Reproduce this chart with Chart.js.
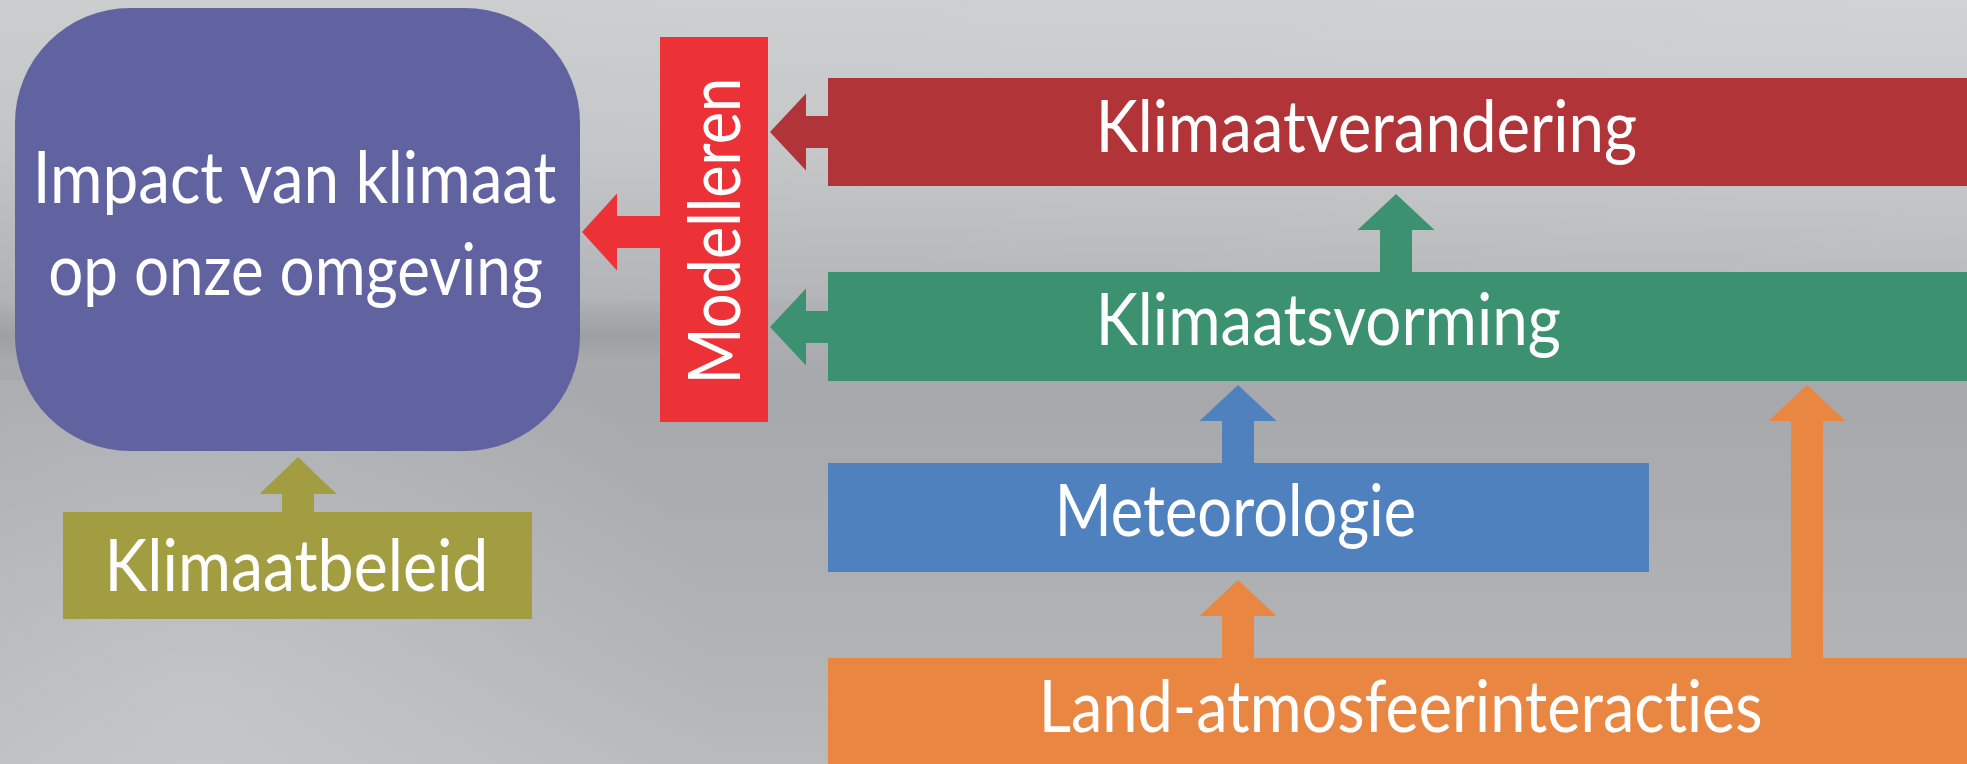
<!DOCTYPE html>
<html>
<head>
<meta charset="utf-8">
<script src="https://cdn.jsdelivr.net/npm/chart.js@4"></script>
<style>
html,body{margin:0;padding:0;background:#b4b6b8;overflow:hidden;}
#wrap{width:1967px;height:764px;position:relative;}
</style>
</head>
<body>
<div id="wrap"><canvas id="c" width="1967" height="764"></canvas></div>
<script>
// ---------- DATA ----------
const nodes = [
  'Impact van klimaat\nop onze omgeving',
  'Modelleren',
  'Klimaatverandering',
  'Klimaatsvorming',
  'Meteorologie',
  'Land-atmosfeerinteracties',
  'Klimaatbeleid'
];
// links: [from, to]  (index into nodes)
const linkFrom = [1, 2, 3, 3, 4, 5, 5, 6];
const linkTo   = [0, 1, 1, 2, 3, 4, 3, 0];

// ---------- LAYOUT (data units of the 0..W / 0..H scales) ----------
const W = 1967, H = 764;
const boxLayout = [
  {x0:15,  x1:580,  y0:8,   y1:451, r:115},
  {x0:660, x1:768,  y0:37,  y1:422, r:0, vertical:true},
  {x0:828, x1:1967, y0:78,  y1:186, r:0},
  {x0:828, x1:1967, y0:272, y1:381, r:0},
  {x0:828, x1:1649, y0:463, y1:572, r:0},
  {x0:828, x1:1967, y0:658, y1:764, r:0},
  {x0:63,  x1:532,  y0:512, y1:619, r:0}
];
// text: left ink edge, ink width, baselines (one per line)
const textLayout = [
  {x:38,   w:518, base:[203, 295], lineW:[518, 492], lineX:[38, 50]},
  {x:740,  w:298, base:[379]},          // vertical: baseline x = 740, starts at y=379
  {x:1101, w:535, base:[152]},
  {x:1101, w:459, base:[345]},
  {x:1060, w:354, base:[536]},
  {x:1044, w:717, base:[732]},
  {x:110,  w:374, base:[591]}
];
const capHeight = 52;
// arrows: tip point, direction, head length, shaft end
const arrowLayout = [
  {tx:582,  ty:232, dir:'left', head:35, end:660},
  {tx:770,  ty:132, dir:'left', head:36, end:828},
  {tx:770,  ty:327, dir:'left', head:36, end:828},
  {tx:1396, ty:194, dir:'up',   head:36, end:272},
  {tx:1238, ty:385, dir:'up',   head:36, end:463},
  {tx:1238, ty:580, dir:'up',   head:36, end:658},
  {tx:1807, ty:385, dir:'up',   head:36, end:658},
  {tx:298,  ty:457, dir:'up',   head:37, end:512}
];
const headHalf = 38.5, shaftHalf = 16;

// ---------- STYLES ----------
const nodeColors = ['#6163a1', '#ec3237', '#b03438', '#3c9270', '#4f81bf', '#e98642', '#a39d42'];
const fontFamily = "Lato, 'Open Sans', 'Noto Sans', sans-serif";
const fontWeight = '400';

// ---------- PLUGIN ----------
const diagram = {
  id: 'diagram',
  beforeDraw(chart) {
    const {ctx} = chart;
    const xs = chart.scales.x, ys = chart.scales.y;
    const X = v => xs.getPixelForValue(v), Y = v => ys.getPixelForValue(v);
    ctx.save();
    let g = ctx.createLinearGradient(0, Y(0), 0, Y(H));
    g.addColorStop(0.00, '#cbcdcf');
    g.addColorStop(0.20, '#c2c4c6');
    g.addColorStop(0.38, '#b1b3b6');
    g.addColorStop(0.50, '#a6a8ab');
    g.addColorStop(0.65, '#aaacaf');
    g.addColorStop(0.85, '#b1b3b5');
    g.addColorStop(1.00, '#b8babc');
    ctx.fillStyle = g;
    ctx.fillRect(X(0), Y(0), X(W) - X(0), Y(H) - Y(0));
    // lighter sky to the right
    g = ctx.createLinearGradient(X(0), 0, X(W), 0);
    g.addColorStop(0, 'rgba(255,255,255,0)');
    g.addColorStop(1, 'rgba(255,255,255,0.10)');
    ctx.fillStyle = g;
    ctx.fillRect(X(0), Y(0), X(W) - X(0), Y(300) - Y(0));
    // faint horizon band at the left
    g = ctx.createLinearGradient(0, Y(300), 0, Y(365));
    g.addColorStop(0, 'rgba(120,122,125,0)');
    g.addColorStop(0.55, 'rgba(120,122,125,0.28)');
    g.addColorStop(1, 'rgba(120,122,125,0)');
    ctx.fillStyle = g;
    ctx.fillRect(X(0), Y(300), X(720) - X(0), Y(365) - Y(300));
    // lighter grass at bottom left
    g = ctx.createRadialGradient(X(200), Y(720), 10, X(200), Y(720), 520);
    g.addColorStop(0, 'rgba(212,214,216,0.45)');
    g.addColorStop(1, 'rgba(212,214,216,0)');
    ctx.fillStyle = g;
    ctx.fillRect(X(0), Y(380), X(900) - X(0), Y(H) - Y(380));
    ctx.restore();
  },
  afterDraw(chart) {
    const {ctx} = chart;
    const xs = chart.scales.x, ys = chart.scales.y;
    const X = v => xs.getPixelForValue(v), Y = v => ys.getPixelForValue(v);
    ctx.save();
    // arrows
    linkFrom.forEach((from, i) => {
      const a = arrowLayout[i];
      ctx.fillStyle = nodeColors[from];
      ctx.beginPath();
      if (a.dir === 'left') {
        const hb = a.tx + a.head;
        ctx.moveTo(X(a.tx), Y(a.ty));
        ctx.lineTo(X(hb), Y(a.ty - headHalf));
        ctx.lineTo(X(hb), Y(a.ty - shaftHalf));
        ctx.lineTo(X(a.end + 1), Y(a.ty - shaftHalf));
        ctx.lineTo(X(a.end + 1), Y(a.ty + shaftHalf));
        ctx.lineTo(X(hb), Y(a.ty + shaftHalf));
        ctx.lineTo(X(hb), Y(a.ty + headHalf));
      } else {
        const hb = a.ty + a.head;
        ctx.moveTo(X(a.tx), Y(a.ty));
        ctx.lineTo(X(a.tx + headHalf), Y(hb));
        ctx.lineTo(X(a.tx + shaftHalf), Y(hb));
        ctx.lineTo(X(a.tx + shaftHalf), Y(a.end + 1));
        ctx.lineTo(X(a.tx - shaftHalf), Y(a.end + 1));
        ctx.lineTo(X(a.tx - shaftHalf), Y(hb));
        ctx.lineTo(X(a.tx - headHalf), Y(hb));
      }
      ctx.closePath();
      ctx.fill();
    });
    // boxes
    nodes.forEach((name, i) => {
      const b = boxLayout[i];
      const x0 = X(b.x0), x1 = X(b.x1), y0 = Y(b.y0), y1 = Y(b.y1);
      ctx.fillStyle = nodeColors[i];
      ctx.beginPath();
      if (b.r > 0) {
        const r = b.r;
        ctx.moveTo(x0 + r, y0);
        ctx.lineTo(x1 - r, y0);
        ctx.arcTo(x1, y0, x1, y0 + r, r);
        ctx.lineTo(x1, y1 - r);
        ctx.arcTo(x1, y1, x1 - r, y1, r);
        ctx.lineTo(x0 + r, y1);
        ctx.arcTo(x0, y1, x0, y1 - r, r);
        ctx.lineTo(x0, y0 + r);
        ctx.arcTo(x0, y0, x0 + r, y0, r);
      } else {
        ctx.rect(x0, y0, x1 - x0, y1 - y0);
      }
      ctx.closePath();
      ctx.fill();
    });
    // text
    if ('letterSpacing' in ctx) ctx.letterSpacing = '0.01px'; // avoid ligatures
    ctx.font = fontWeight + ' 100px ' + fontFamily;
    const capRef = ctx.measureText('H').actualBoundingBoxAscent || 71;
    const size = 100 * capHeight / capRef;
    ctx.font = fontWeight + ' ' + size.toFixed(2) + 'px ' + fontFamily;
    ctx.fillStyle = '#ffffff';
    ctx.textAlign = 'left';
    ctx.textBaseline = 'alphabetic';
    nodes.forEach((name, i) => {
      const t = textLayout[i];
      const lines = name.split('\n');
      lines.forEach((line, k) => {
        const m = ctx.measureText(line);
        const ink = m.actualBoundingBoxLeft + m.actualBoundingBoxRight;
        const targetW = t.lineW ? t.lineW[k] : t.w;
        const lx = t.lineX ? t.lineX[k] : t.x;
        const sx = targetW / ink;
        ctx.save();
        ctx.translate(X(lx), Y(t.base[k]));
        if (boxLayout[i].vertical) ctx.rotate(-Math.PI / 2);
        ctx.scale(sx, 1);
        ctx.fillText(line, m.actualBoundingBoxLeft, 0);
        ctx.restore();
      });
    });
    ctx.restore();
  }
};

new Chart(document.getElementById('c'), {
  type: 'scatter',
  data: { datasets: [{ label: 'diagram', data: [], pointRadius: 0 }] },
  options: {
    responsive: false,
    animation: false,
    events: [],
    layout: { padding: 0 },
    plugins: { legend: { display: false }, tooltip: { enabled: false }, title: { display: false } },
    scales: {
      x: { type: 'linear', min: 0, max: W, display: false },
      y: { type: 'linear', min: 0, max: H, reverse: true, display: false }
    }
  },
  plugins: [diagram]
});
</script>
</body>
</html>
